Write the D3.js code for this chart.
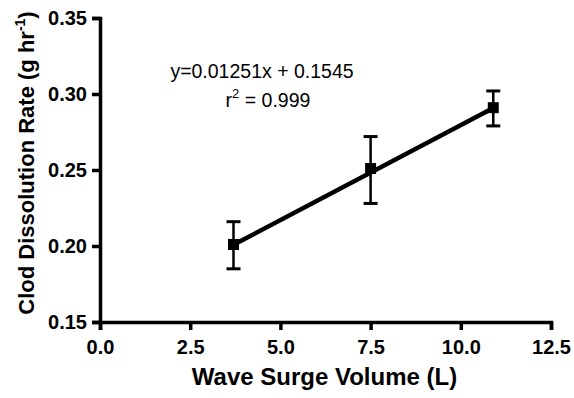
<!DOCTYPE html>
<html>
<head>
<meta charset="utf-8">
<script src="https://d3js.org/d3.v7.min.js"></script>
<style>
  body { margin: 0; background: #fff; }
  text { font-family: Arial, "Liberation Sans", sans-serif; }
</style>
</head>
<body>
<div id="chart"></div>
<script>
// data
var volume = [3.7, 7.5, 10.9];
var rate = [0.201, 0.251, 0.291];
var errUp = [0.216, 0.272, 0.302];
var errDown = [0.185, 0.228, 0.279];
var xTicks = [0, 2.5, 5, 7.5, 10, 12.5];
var yTicks = [0.15, 0.20, 0.25, 0.30, 0.35];
var slope = 0.01251, intercept = 0.1545;

var svgWidth = 574, svgHeight = 398;
var margin = {top: 18, right: 23, bottom: 76, left: 100};
var width = svgWidth - margin.left - margin.right;
var height = svgHeight - margin.top - margin.bottom;

var svg = d3.select("#chart").append("svg")
  .attr("width", svgWidth)
  .attr("height", svgHeight);

var g = svg.append("g")
  .attr("transform", `translate(${margin.left}, ${margin.top})`);

var x = d3.scaleLinear().domain([0, 12.5]).range([0, width]);
var y = d3.scaleLinear().domain([0.15, 0.35]).range([height, 0]);

var xAxis = d3.axisBottom(x).tickValues(xTicks).tickFormat(d3.format(".1f")).tickSizeOuter(0).tickSize(8).tickPadding(10);
var yAxis = d3.axisLeft(y).tickValues(yTicks).tickFormat(d3.format(".2f")).tickSizeOuter(0).tickSize(8).tickPadding(5);

var gx = g.append("g").attr("transform", `translate(0, ${height})`).call(xAxis);
var gy = g.append("g").call(yAxis);

[gx, gy].forEach(function(a) {
  a.select(".domain").attr("stroke", "#000").attr("stroke-width", 3.5);
  a.selectAll(".tick line").attr("stroke", "#000").attr("stroke-width", 3.5);
  a.selectAll(".tick text")
    .attr("fill", "#000")
    .style("font-size", "20px")
    .style("font-weight", "bold")
    .style("font-family", "Arial, 'Liberation Sans', sans-serif");
});

// axis titles
g.append("text")
  .attr("x", width / 2 - 1)
  .attr("y", height + 63)
  .attr("text-anchor", "middle")
  .style("font-size", "24px")
  .style("font-weight", "bold")
  .text("Wave Surge Volume (L)");

var yt = g.append("text")
  .attr("transform", `translate(${-66}, ${height / 2 - 7}) rotate(-90)`)
  .attr("text-anchor", "middle")
  .style("font-size", "22px")
  .style("font-weight", "bold");
yt.append("tspan").text("Clod Dissolution Rate (g hr");
yt.append("tspan").attr("dy", -9).style("font-size", "14px").text("-1");
yt.append("tspan").attr("dy", 9).text(")");

// regression line
var xr = d3.extent(volume);
g.append("line")
  .attr("x1", x(xr[0])).attr("y1", y(slope * xr[0] + intercept))
  .attr("x2", x(xr[1])).attr("y2", y(slope * xr[1] + intercept))
  .attr("stroke", "#000").attr("stroke-width", 4.5);

// error bars
var pts = volume.map(function(v, i) { return {x: v, y: rate[i], hi: errUp[i], lo: errDown[i]}; });
g.selectAll(".err").data(pts).enter().append("line")
  .attr("x1", d => x(d.x)).attr("x2", d => x(d.x))
  .attr("y1", d => y(d.hi)).attr("y2", d => y(d.lo))
  .attr("stroke", "#000").attr("stroke-width", 2.5);
g.selectAll(".capT").data(pts).enter().append("line")
  .attr("x1", d => x(d.x) - 7).attr("x2", d => x(d.x) + 7)
  .attr("y1", d => y(d.hi)).attr("y2", d => y(d.hi))
  .attr("stroke", "#000").attr("stroke-width", 3);
g.selectAll(".capB").data(pts).enter().append("line")
  .attr("x1", d => x(d.x) - 7).attr("x2", d => x(d.x) + 7)
  .attr("y1", d => y(d.lo)).attr("y2", d => y(d.lo))
  .attr("stroke", "#000").attr("stroke-width", 3);

// markers
g.selectAll(".pt").data(pts).enter().append("rect")
  .attr("x", d => x(d.x) - 5.5).attr("y", d => y(d.y) - 5.5)
  .attr("width", 11).attr("height", 11)
  .attr("fill", "#000");

// equation
g.append("text")
  .attr("x", 162).attr("y", 60)
  .attr("text-anchor", "middle")
  .style("font-size", "19.5px")
  .text("y=0.01251x + 0.1545");
var r2 = g.append("text")
  .attr("x", 168).attr("y", 89)
  .attr("text-anchor", "middle")
  .style("font-size", "19.5px");
r2.append("tspan").text("r");
r2.append("tspan").attr("dy", -9).style("font-size", "13px").text("2");
r2.append("tspan").attr("dy", 9).text(" = 0.999");
</script>
</body>
</html>
